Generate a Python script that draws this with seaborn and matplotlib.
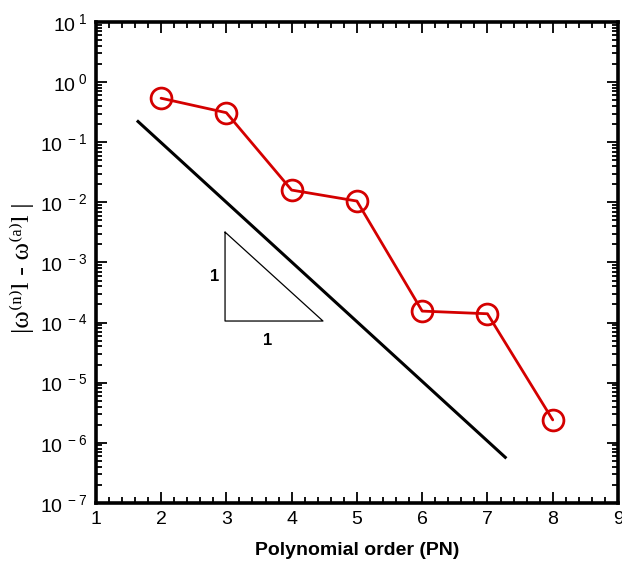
import numpy as np
import pandas as pd
import matplotlib
matplotlib.use("Agg")
import matplotlib.pyplot as plt
import seaborn as sns
from matplotlib.ticker import LogLocator, MultipleLocator, FixedLocator, FuncFormatter

# Error against polynomial order
orders = [2, 3, 4, 5, 6, 7, 8]
errors = [0.54, 0.31, 0.016, 0.0105, 1.55e-4, 1.40e-4, 2.4e-6]

# Reference slope line (one decade per order)
ref_x = [1.63, 7.29]
ref_y = [0.23, 5.5e-7]

# Slope triangle
tri_x = [2.98, 2.98, 4.48, 2.98]
tri_y = [3.2e-3, 1.06e-4, 1.06e-4, 3.2e-3]

sns.set_theme(style="ticks")
plt.rcParams["font.family"] = ["Liberation Sans", "DejaVu Sans"]
plt.rcParams["mathtext.fontset"] = "custom"
plt.rcParams["mathtext.rm"] = "Liberation Sans"
plt.rcParams["mathtext.it"] = "Liberation Sans:italic"
plt.rcParams["mathtext.bf"] = "Liberation Sans:bold"
for key in ["text.color", "axes.labelcolor", "xtick.color", "ytick.color", "axes.edgecolor"]:
    plt.rcParams[key] = "black"

fig = plt.figure(figsize=(6.22, 5.65), dpi=100)
ax = fig.add_axes([0.154, 0.110, 0.8396, 0.851])

df = pd.DataFrame({"order": orders, "err": errors})
sns.lineplot(data=df, x="order", y="err", ax=ax, color="#d40000", lw=2,
             marker="o", markersize=15, markerfacecolor="none",
             markeredgecolor="#d40000", markeredgewidth=2)

ax.plot(ref_x, ref_y, color="black", lw=2.2, solid_capstyle="butt")
ax.plot(tri_x, tri_y, color="black", lw=0.9)

ax.set_yscale("log")
ax.set_xlim(1, 9)
ax.set_ylim(1e-7, 10)

ax.text(2.82, 5.9e-4, "1", fontsize=12, fontweight="bold", ha="center", va="center")
ax.text(3.63, 5.0e-5, "1", fontsize=12, fontweight="bold", ha="center", va="center")

ax.xaxis.set_major_locator(MultipleLocator(1))
ax.xaxis.set_minor_locator(MultipleLocator(0.2))
ax.yaxis.set_major_locator(FixedLocator([10.0 ** k for k in range(-7, 2)]))
ax.yaxis.set_minor_locator(LogLocator(base=10, subs=np.arange(2, 10), numticks=20))
ax.yaxis.set_major_formatter(FuncFormatter(
    lambda v, p: r"$\mathregular{10^{\ %d}}$" % int(round(np.log10(v)))))

ax.tick_params(which="both", direction="in", top=True, right=True, width=1.3, color="black")
ax.tick_params(which="major", length=8, labelsize=14, pad=6)
ax.tick_params(which="minor", length=4)
for s in ax.spines.values():
    s.set_linewidth(2.6)
    s.set_color("black")

ax.set_xlabel("Polynomial order (PN)", fontsize=14, fontweight="bold", labelpad=10)
ax.set_ylabel("|ω⁽ⁿ⁾l - ω⁽ᵃ⁾l |", fontsize=19,
              family=["Liberation Serif", "DejaVu Serif"])
ax.yaxis.set_label_coords(-0.118, 0.49)

fig.savefig("out.png", dpi=100)
